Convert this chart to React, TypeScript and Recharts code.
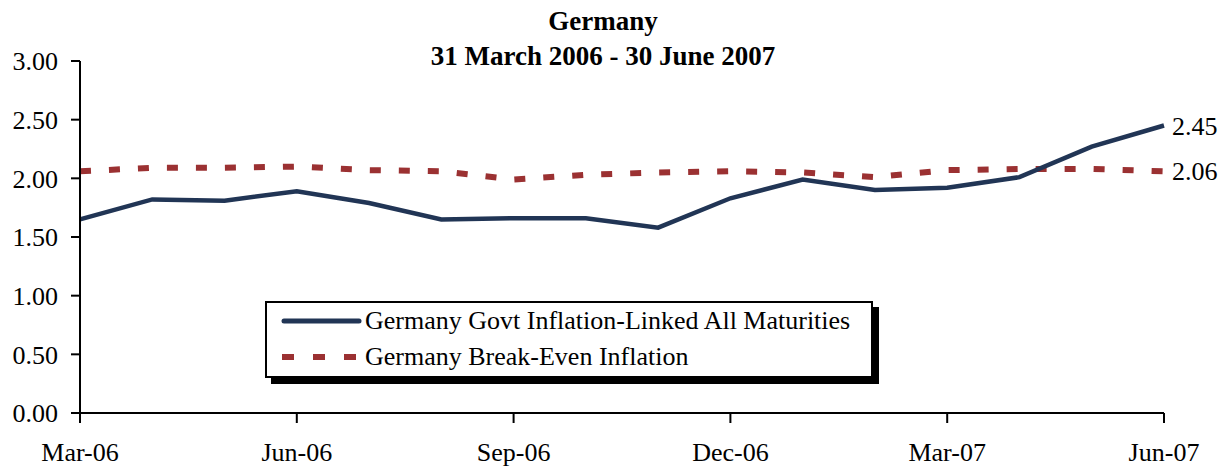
import React from 'react'
import { LineChart, Line, XAxis, YAxis } from 'recharts'

const months = [
  'Mar-06', 'Apr-06', 'May-06', 'Jun-06', 'Jul-06', 'Aug-06', 'Sep-06', 'Oct-06',
  'Nov-06', 'Dec-06', 'Jan-07', 'Feb-07', 'Mar-07', 'Apr-07', 'May-07', 'Jun-07',
]
const linkedYield = [1.65, 1.82, 1.81, 1.89, 1.79, 1.65, 1.66, 1.66, 1.58, 1.83, 1.99, 1.9, 1.92, 2.01, 2.27, 2.45]
const breakEven = [2.06, 2.09, 2.09, 2.1, 2.07, 2.06, 1.99, 2.03, 2.05, 2.06, 2.05, 2.01, 2.07, 2.08, 2.08, 2.06]
const yTicks = [0, 0.5, 1, 1.5, 2, 2.5, 3]

const TITLE = 'Germany'
const SUBTITLE = '31 March 2006 - 30 June 2007'
const SERIES_LINKED = 'Germany Govt Inflation-Linked All Maturities'
const SERIES_BEI = 'Germany Break-Even Inflation'

const BLUE = '#213555'
const RED = '#9b3132'
const FONT = '"Liberation Serif", "Times New Roman", serif'

const data = months.map((m, i) => ({ month: m, linked: linkedYield[i], bei: breakEven[i] }))

// value label only at the last point of each series
function endLabel(props: any) {
  const { x, y, index, value } = props
  if (index !== months.length - 1) return null
  return (
    <text x={x + 8} y={y} dy="0.35em" fontSize={26} fontFamily={FONT} fill="#000">
      {Number(value).toFixed(2)}
    </text>
  )
}

function LegendBox() {
  const row = { display: 'flex', alignItems: 'center', height: 36 }
  return (
    <div
      style={{
        position: 'absolute',
        left: 265,
        top: 301,
        width: 608,
        height: 77,
        border: '2px solid #000',
        boxShadow: '6px 6px 0 #000',
        background: '#fff',
        fontFamily: FONT,
        fontSize: 26,
        boxSizing: 'border-box',
      }}
    >
      <div style={row}>
        <svg width={98} height={10} style={{ flex: 'none' }}>
          <line x1={17} y1={5} x2={92} y2={5} stroke={BLUE} strokeWidth={5} strokeLinecap="round" />
        </svg>
        <span>{SERIES_LINKED}</span>
      </div>
      <div style={row}>
        <svg width={98} height={10} style={{ flex: 'none' }}>
          <line x1={15} y1={5} x2={92} y2={5} stroke={RED} strokeWidth={6} strokeDasharray="12 19" />
        </svg>
        <span>{SERIES_BEI}</span>
      </div>
    </div>
  )
}

export default function App() {
  return (
    <div style={{ position: 'absolute', left: 0, top: 0, width: 1227, height: 468, background: '#fff' }}>
      <div
        style={{
          position: 'absolute',
          left: 0,
          top: 4,
          width: 1206,
          textAlign: 'center',
          fontFamily: FONT,
          fontWeight: 'bold',
          fontSize: 27,
          lineHeight: '35px',
          zIndex: 1,
        }}
      >
        <div>{TITLE}</div>
        <div>{SUBTITLE}</div>
      </div>
      <LineChart
        width={1227}
        height={468}
        data={data}
        margin={{ top: 61, right: 63, bottom: 0, left: 0 }}
      >
        <XAxis
          dataKey="month"
          interval={2}
          axisLine={{ stroke: '#000', strokeWidth: 2 }}
          tickLine={{ stroke: '#000', strokeWidth: 2 }}
          tickSize={10}
          tickMargin={20}
          height={55}
          tick={{ fill: '#000', fontSize: 26, fontFamily: FONT }}
        />
        <YAxis
          domain={[0, 3]}
          ticks={yTicks}
          width={80}
          axisLine={{ stroke: '#000', strokeWidth: 2 }}
          tickLine={{ stroke: '#000', strokeWidth: 2 }}
          tickSize={9}
          tickMargin={13}
          tickFormatter={(v: number) => v.toFixed(2)}
          tick={{ fill: '#000', fontSize: 26, fontFamily: FONT }}
        />
        <Line
          name={SERIES_BEI}
          dataKey="bei"
          stroke={RED}
          strokeWidth={6}
          strokeDasharray="11 18"
          dot={false}
          isAnimationActive={false}
          label={endLabel}
        />
        <Line
          name={SERIES_LINKED}
          dataKey="linked"
          stroke={BLUE}
          strokeWidth={4.5}
          dot={false}
          isAnimationActive={false}
          label={endLabel}
        />
      </LineChart>
      <LegendBox />
    </div>
  )
}
